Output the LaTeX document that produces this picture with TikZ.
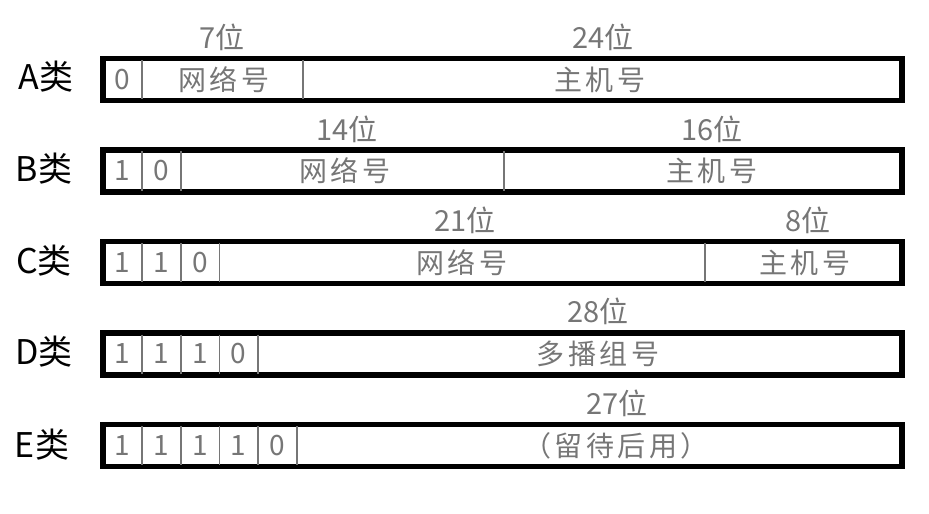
\documentclass[tikz,border=0pt]{standalone}
\usepackage{fontspec}
\setmainfont{Noto Sans CJK SC}
\newfontfamily\fieldfont[LetterSpace=12]{Noto Sans CJK SC}
\definecolor{txtgray}{HTML}{767676}
\tikzset{
  frame/.style={draw=black, line width=2.6pt},
  sep/.style={draw=txtgray, line width=0.9pt},
  bit/.style={text=txtgray, font=\fontsize{14}{14}\selectfont},
  field/.style={text=txtgray, font=\fieldfont\fontsize{14}{14}\selectfont},
  width/.style={text=txtgray, font=\fontsize{14.5}{14.5}\selectfont},
  cls/.style={font=\fontsize{17}{17}\selectfont}
}
\begin{document}
\begin{tikzpicture}[x=0.5pt,y=-0.5pt]
\useasboundingbox (0,0) rectangle (929,513);
% A
\node[cls] (clsA) at (46,77) {A类};
\draw[frame] (103,58.5) rectangle (902,100.5);
\draw[sep] (142,60)--(142,99);
\draw[sep] (303,60)--(303,99);
\node[bit] (a1) at (122,80) {0};
\node[field] (netA) at (224,80) {网络号};
\node[field] (hostA) at (600,80) {主机号};
\node[width] (wA1) at (222,37) {7位};
\node[width] (wA2) at (603,37) {24位};
% B
\node[cls] (clsB) at (44,169) {B类};
\draw[frame] (103,150) rectangle (902,192);
\draw[sep] (142,151.5)--(142,190.5);
\draw[sep] (181,151.5)--(181,190.5);
\draw[sep] (504,151.5)--(504,190.5);
\node[bit] (b1) at (122,171) {1};
\node[bit] (b2) at (161,171) {0};
\node[field] (netB) at (345,171) {网络号};
\node[field] (hostB) at (712,171) {主机号};
\node[width] (wB1) at (347,129) {14位};
\node[width] (wB2) at (712,129) {16位};
% C
\node[cls] (clsC) at (44,261) {C类};
\draw[frame] (103,241.5) rectangle (902,283.5);
\draw[sep] (142,243)--(142,282);
\draw[sep] (181,243)--(181,282);
\draw[sep] (219.5,243)--(219.5,282);
\draw[sep] (705,243)--(705,282);
\node[bit] (c1) at (122,262.5) {1};
\node[bit] (c2) at (161,262.5) {1};
\node[bit] (c3) at (200,262.5) {0};
\node[field] (netC) at (462,262.5) {网络号};
\node[field] (hostC) at (805,262.5) {主机号};
\node[width] (wC1) at (465,220) {21位};
\node[width] (wC2) at (808,220) {8位};
% D
\node[cls] (clsD) at (44,352) {D类};
\draw[frame] (103,333) rectangle (902,375);
\draw[sep] (142,334.5)--(142,373.5);
\draw[sep] (181,334.5)--(181,373.5);
\draw[sep] (219.5,334.5)--(219.5,373.5);
\draw[sep] (258,334.5)--(258,373.5);
\node[bit] (d1) at (122,354) {1};
\node[bit] (d2) at (161,354) {1};
\node[bit] (d3) at (200,354) {1};
\node[bit] (d4) at (238.5,354) {0};
\node[field] (grpD) at (598,354) {多播组号};
\node[width] (wD) at (598,311) {28位};
% E
\node[cls] (clsE) at (42,445) {E类};
\draw[frame] (103,424.5) rectangle (902,466.5);
\draw[sep] (142,426)--(142,465);
\draw[sep] (181,426)--(181,465);
\draw[sep] (219.5,426)--(219.5,465);
\draw[sep] (258,426)--(258,465);
\draw[sep] (297,426)--(297,465);
\node[bit] (e1) at (122,445.5) {1};
\node[bit] (e2) at (161,445.5) {1};
\node[bit] (e3) at (200,445.5) {1};
\node[bit] (e4) at (238.5,445.5) {1};
\node[bit] (e5) at (277.5,445.5) {0};
\node[field] (resE) at (616,445.5) {（留待后用）};
\node[width] (wE) at (617,403) {27位};
\end{tikzpicture}
\end{document}
